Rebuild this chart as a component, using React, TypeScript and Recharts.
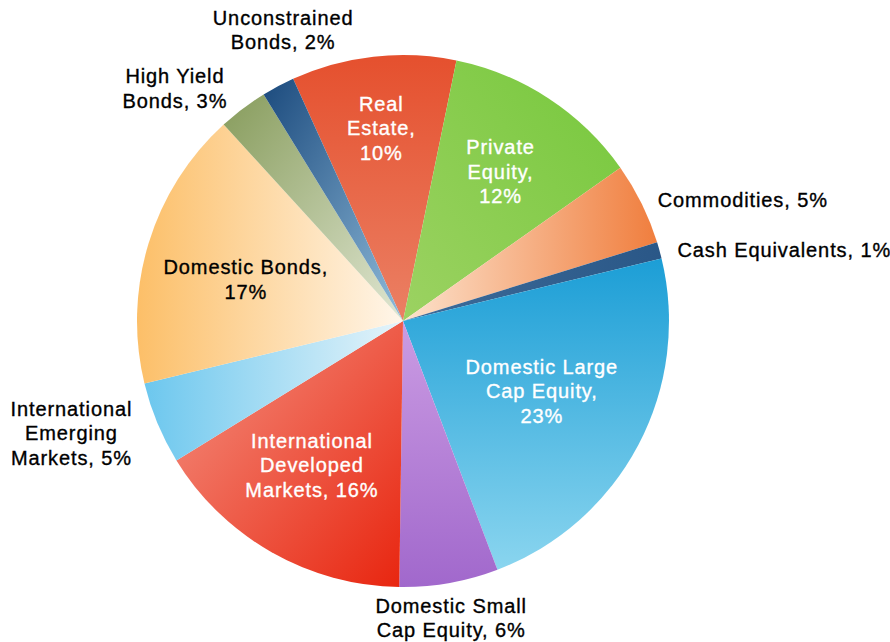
import { PieChart, Pie, Cell } from 'recharts';

const categories = [
  'Real Estate',
  'Private Equity',
  'Commodities',
  'Cash Equivalents',
  'Domestic Large Cap Equity',
  'Domestic Small Cap Equity',
  'International Developed Markets',
  'International Emerging Markets',
  'Domestic Bonds',
  'High Yield Bonds',
  'Unconstrained Bonds',
];

const shares = [10, 12, 5, 1, 23, 6, 16, 5, 17, 3, 2];

const labelLines = [
  ['Real', 'Estate,', '10%'],
  ['Private', 'Equity,', '12%'],
  ['Commodities, 5%'],
  ['Cash Equivalents, 1%'],
  ['Domestic Large', 'Cap Equity,', '23%'],
  ['Domestic Small', 'Cap Equity, 6%'],
  ['International', 'Developed', 'Markets, 16%'],
  ['International', 'Emerging', 'Markets, 5%'],
  ['Domestic Bonds,', '17%'],
  ['High Yield', 'Bonds, 3%'],
  ['Unconstrained', 'Bonds, 2%'],
];

const data = categories.map((name, i) => ({ name, value: shares[i] }));

// gradient per slice: [x1, y1, x2, y2, from, to]
const gradients: [number, number, number, number, string, string][] = [
  [0, 0, 0, 1, '#E5502E', '#EB8064'],
  [1, 0, 0, 1, '#76C83C', '#9CD262'],
  [1, 0, 0, 0, '#F07E3E', '#FCE2CC'],
  [0, 0, 1, 0, '#3D6C9A', '#2A5787'],
  [0, 0, 0, 1, '#1C9ED6', '#8AD5EF'],
  [0, 0, 0, 1, '#CB9CE3', '#A168CC'],
  [0, 0, 1, 1, '#F49484', '#E8250F'],
  [0, 0, 1, 0, '#6CC7EE', '#E6F4FA'],
  [0, 0, 1, 0, '#FCBF68', '#FFF6EA'],
  [0, 0, 1, 1, '#879C5C', '#E0E6D2'],
  [0, 0, 1, 1, '#1B4A7D', '#8FBBDA'],
];

// label placement: radius factor, nudge, colour, anchor
const labelStyle = [
  { k: 0.73, dx: 0, dy: 0, fill: '#fff', anchor: 'middle' },
  { k: 0.67, dx: 0, dy: 0, fill: '#fff', anchor: 'middle' },
  { k: 1.0, dx: 16, dy: -4, fill: '#000', anchor: 'start' },
  { k: 1.0, dx: 18, dy: 0, fill: '#000', anchor: 'start' },
  { k: 0.59, dx: 0, dy: -3, fill: '#fff', anchor: 'middle' },
  { k: 1.0, dx: 2, dy: 35, fill: '#000', anchor: 'middle' },
  { k: 0.64, dx: -7, dy: -4, fill: '#fff', anchor: 'middle' },
  { k: 1.0, dx: -86, dy: 10, fill: '#000', anchor: 'middle' },
  { k: 0.61, dx: -2, dy: 6, fill: '#000', anchor: 'middle' },
  { k: 1.0, dx: -68, dy: -20, fill: '#000', anchor: 'middle' },
  { k: 1.0, dx: 5, dy: -56, fill: '#000', anchor: 'middle' },
];

const RAD = Math.PI / 180;
const LH = 24.5;

function SliceLabel(props: any) {
  const { cx, cy, midAngle, outerRadius, index } = props;
  const s = labelStyle[index];
  const lines = labelLines[index];
  const x = cx + outerRadius * s.k * Math.cos(-midAngle * RAD) + s.dx;
  const y = cy + outerRadius * s.k * Math.sin(-midAngle * RAD) + s.dy;
  const top = y - ((lines.length - 1) * LH) / 2;
  return (
    <text
      x={x}
      y={top}
      fill={s.fill}
      stroke={s.fill}
      strokeWidth={0.35}
      textAnchor={s.anchor}
      fontSize={20}
      letterSpacing={0.9}
      fontFamily="'Liberation Sans', Arial, Helvetica, sans-serif"
    >
      {lines.map((l, i) => (
        <tspan key={i} x={x} y={top + i * LH} dominantBaseline="central">
          {l}
        </tspan>
      ))}
    </text>
  );
}

export default function App() {
  return (
    <div style={{ position: 'absolute', left: 0, top: 0, background: '#fff' }}>
      <PieChart width={890} height={642} margin={{ top: 0, right: 0, bottom: 0, left: 0 }}>
        <defs>
          {gradients.map((g, i) => (
            <linearGradient key={i} id={`slice-${i}`} x1={g[0]} y1={g[1]} x2={g[2]} y2={g[3]}>
              <stop offset="0%" stopColor={g[4]} />
              <stop offset="100%" stopColor={g[5]} />
            </linearGradient>
          ))}
        </defs>
        <Pie
          data={data}
          dataKey="value"
          nameKey="name"
          cx={403}
          cy={321}
          outerRadius={266}
          startAngle={114.4}
          endAngle={-245.6}
          stroke="none"
          labelLine={false}
          label={SliceLabel}
          isAnimationActive={false}
        >
          {data.map((d, i) => (
            <Cell key={d.name} fill={`url(#slice-${i})`} />
          ))}
        </Pie>
      </PieChart>
    </div>
  );
}
